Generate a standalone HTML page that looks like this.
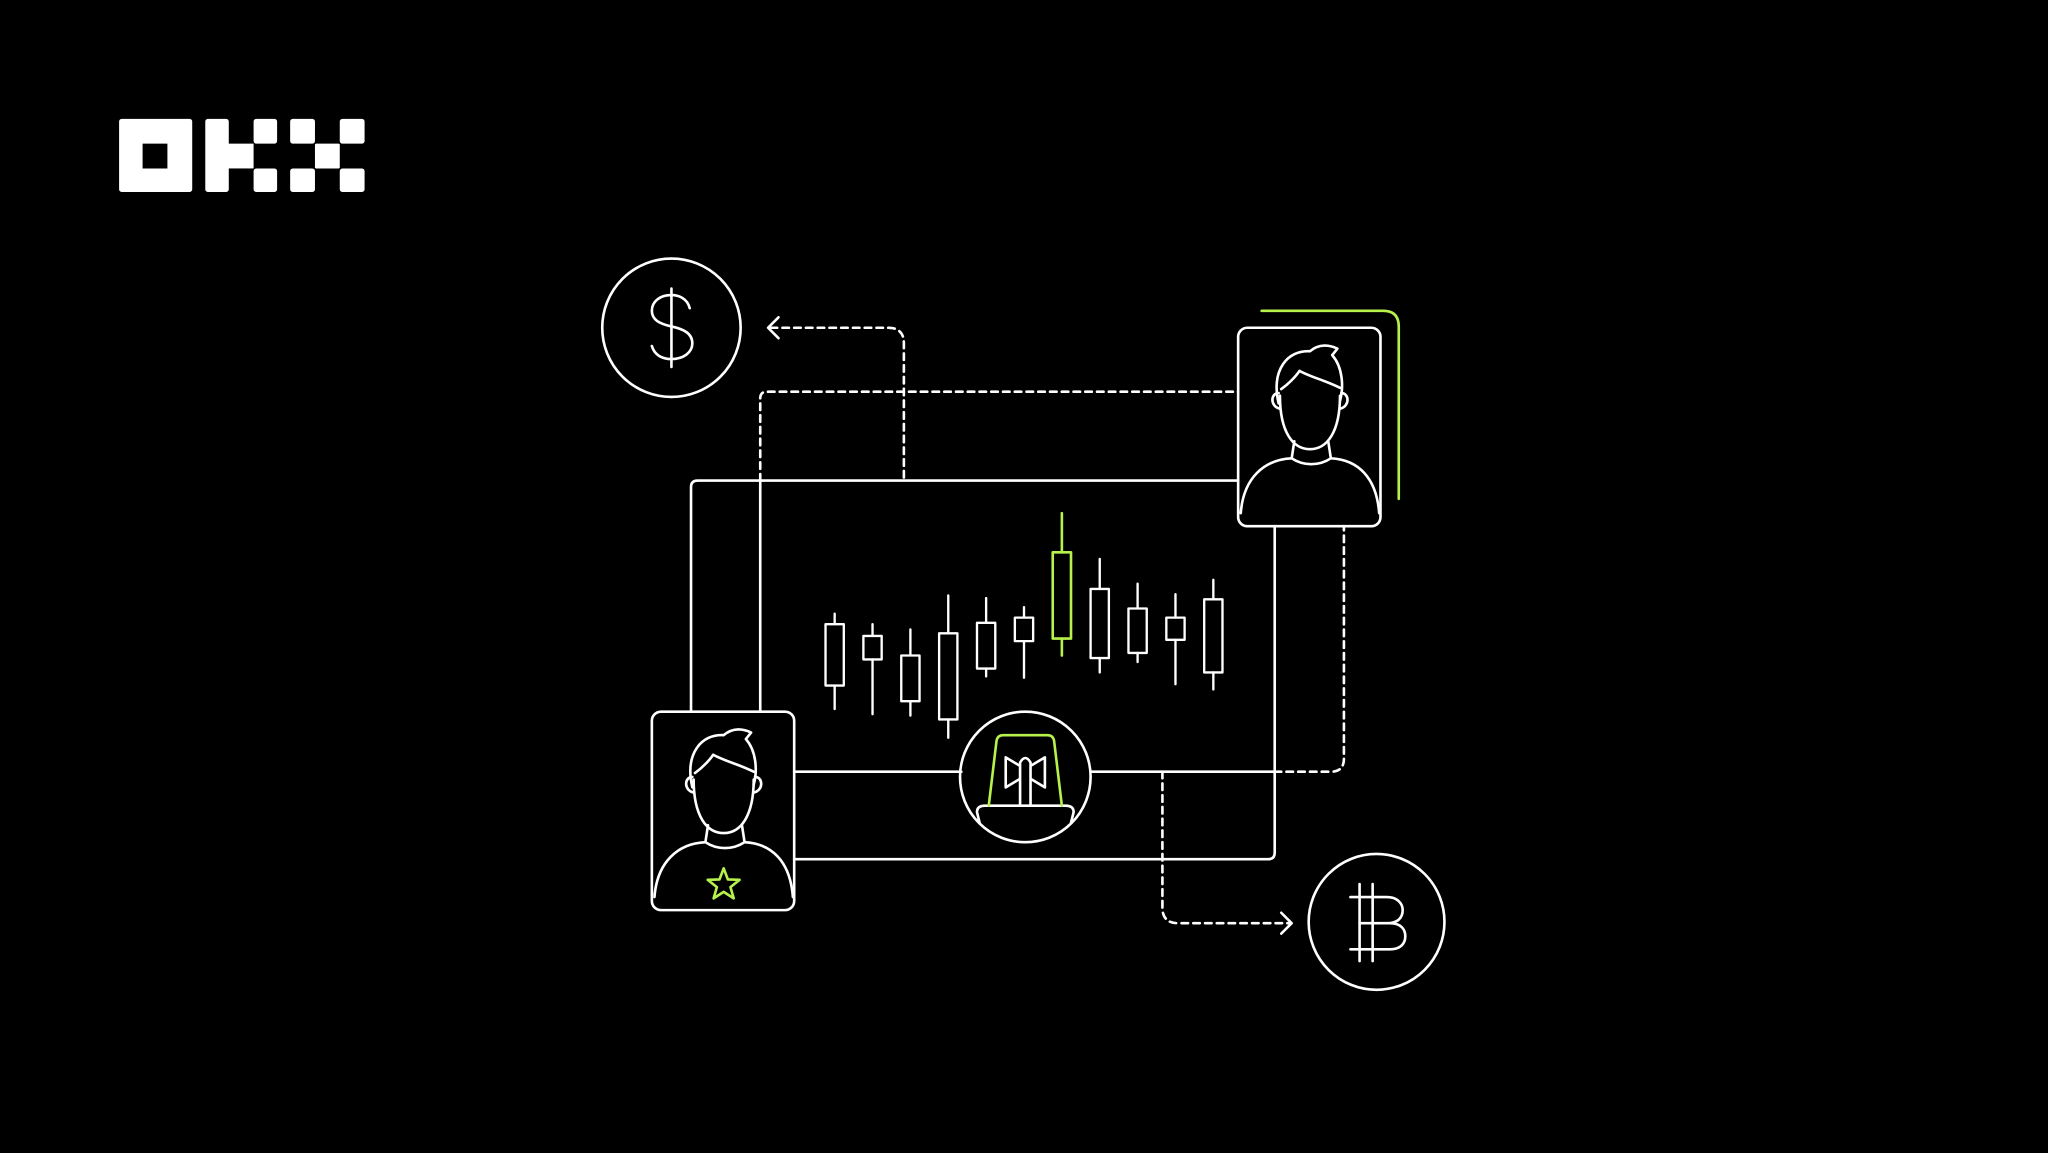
<!DOCTYPE html>
<html><head><meta charset="utf-8"><style>html,body{margin:0;padding:0;background:#000;overflow:hidden}svg{display:block}</style></head>
<body>
<svg width="2048" height="1153" viewBox="0 0 1568 883" xmlns="http://www.w3.org/2000/svg">
<rect width="1568" height="883" fill="#000"/>
<!-- logo -->
<g fill="#fff">
<path d="M93 91h52a2 2 0 0 1 2 2v52a2 2 0 0 1-2 2h-52a2 2 0 0 1-2-2v-52a2 2 0 0 1 2-2zM109 110v19h19v-19z" fill-rule="evenodd"/>
<rect x="157" y="91" width="18" height="56" rx="2"/>
<rect x="173" y="110" width="21" height="19"/>
<rect x="194" y="91" width="18" height="19" rx="2"/>
<rect x="194" y="129" width="18" height="18" rx="2"/>
<rect x="222" y="91" width="19" height="19" rx="2"/>
<rect x="260" y="91" width="19" height="19" rx="2"/>
<rect x="241" y="110" width="19" height="19" rx="1"/>
<rect x="222" y="129" width="19" height="18" rx="2"/>
<rect x="260" y="129" width="19" height="18" rx="2"/>
</g>
<defs>
<g id="person" fill="none" stroke="#fff" stroke-width="2" stroke-linecap="round" stroke-linejoin="round">
<path d="M32,52 C32,80 42,93 55,93 C68,93 78,80 78,52"/>
<path d="M31,58 C25,32 38,17 55,18 C62,12 70,13 76,16 L72,21 C80,30 81,45 78,56"/>
<path d="M33,47 C40,42 45,36 47,33 C56,38 66,40 78,46"/>
<path d="M31,50 C25,50 24,60 32,62"/>
<path d="M79,50 C85,50 86,60 78,62"/>
<path d="M43,87 L41,100 C50,106 62,106 71,100 L69,87"/>
<path d="M2,142 C4,115 20,101 41,100"/>
<path d="M71,100 C92,101 106,115 108,142"/>
</g>
</defs>
<g fill="none" stroke="#fff" stroke-width="2" stroke-linecap="round" stroke-linejoin="round">
<!-- $ circle -->
<circle cx="514" cy="251" r="53"/>
<path d="M514 221v60"/>
<path d="M528 236c-2-8-9-10-14-10c-9 0-15 5-15 12c0 7 6 10 15 12c9 2 16 5 16 13c0 7-7 12-16 12c-7 0-13-3-15-10"/>
<!-- B circle -->
<circle cx="1054" cy="706" r="52"/>
<path d="M1041 677v59M1051 677v59"/>
<path d="M1034 687h28c8 0 12 5 12 10c0 6-4 10-12 10h-21M1041 707h23c9 0 12 5 12 10c0 6-4 10-12 10h-30"/>
<!-- main rect -->
<path d="M529 545V373q0-5 5-5h414"/>
<path d="M582 545V368"/>
<path d="M976 403V653q0 5-5 5H608"/>
<path d="M608 591H736M835 591H976"/>
<!-- cards -->
<rect x="948" y="251" width="109" height="152" rx="7"/>
<rect x="499" y="545" width="109" height="152" rx="7"/>
<!-- alarm circle -->
<circle cx="785" cy="595" r="50"/>
<path d="M750 630l-2-8q0-5 6-5h62q6 0 6 5l-2 8"/>
<path d="M781 617v-33q4-7 8 0v33"/>
<path d="M780 586l-10-6v23l10-6M790 586l10-6v23l-10-6"/>
<!-- candles -->
<g stroke-width="1.8">
<path d="M639 470v8M639 525v18"/><rect x="632" y="478" width="14" height="47"/>
<path d="M668 478v9M668 505v42"/><rect x="661" y="487" width="14" height="18"/>
<path d="M697 482v20M697 537v11"/><rect x="690" y="502" width="14" height="35"/>
<path d="M726 456v29M726 551v14"/><rect x="719" y="485" width="14" height="66"/>
<path d="M755 458v19M755 512v6"/><rect x="748" y="477" width="14" height="35"/>
<path d="M784 465v8M784 491v28"/><rect x="777" y="473" width="14" height="18"/>
<path d="M842 428v23M842 504v11"/><rect x="835" y="451" width="14" height="53"/>
<path d="M871 447v19M871 500v7"/><rect x="864" y="466" width="14" height="34"/>
<path d="M900 455v18M900 490v34"/><rect x="893" y="473" width="14" height="17"/>
<path d="M929 444v15M929 515v13"/><rect x="922" y="459" width="14" height="56"/>
</g>
<!-- dashed -->
<g stroke-dasharray="5 4">
<path d="M590 251H680q12 0 12 12V368"/>
<path d="M582 368V305q0-5 5-5H948"/>
<path d="M976 591H1019q10 0 10-10V403"/>
<path d="M890 591V695q0 12 12 12H988"/>
</g>
<path d="M596 243l-8 8l8 8"/>
<path d="M981 699l8 8l-8 8"/>
</g>
<use href="#person" x="948" y="251"/>
<use href="#person" x="499" y="545"/>
<g fill="none" stroke="#b6f24b" stroke-width="2" stroke-linecap="round" stroke-linejoin="round">
<path d="M966 238H1059q12 0 12 12V382"/>
<path d="M813 393v30M813 489v13"/><rect x="806" y="423" width="14" height="66"/>
<path d="M757 617l6-50q1-4 5-4h34q4 0 5 4l6 50"/>
<path d="M554 665l3.2 8.5 9 .3-7 5.6 2.5 8.6-7.7-5-7.7 5 2.5-8.6-7-5.6 9-.3z"/>
</g>
</svg>
</body></html>
